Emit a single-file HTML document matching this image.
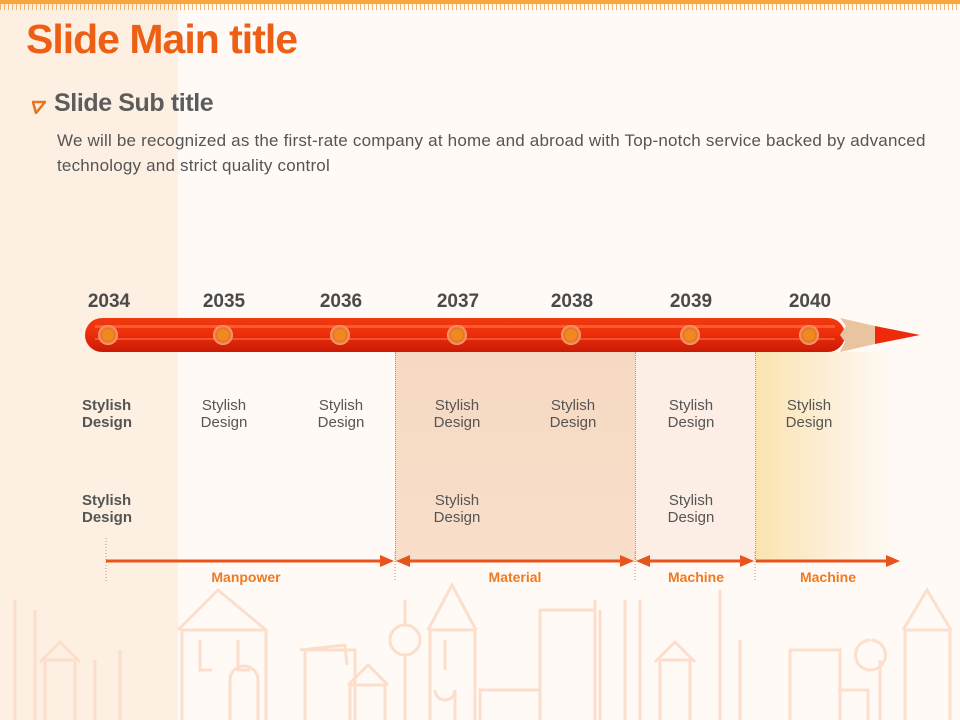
<!DOCTYPE html>
<html><head><meta charset="utf-8"><style>
body{margin:0;width:960px;height:720px;overflow:hidden;background:#fffaf6;font-family:"Liberation Sans",sans-serif;position:relative}
.a{position:absolute}
.yr{position:absolute;top:291px;width:80px;text-align:center;font-weight:bold;font-size:19px;color:#4a4a4a}
.sd{position:absolute;width:90px;text-align:center;font-size:15px;line-height:17px;color:#555}
.sd.b{font-weight:bold;text-align:left;color:#555}
.lb{position:absolute;top:569px;text-align:center;font-weight:bold;font-size:14px;color:#ee7a22}
</style></head><body>
<div class="a" style="left:0;top:0;width:178px;height:720px;background:#fdefe2"></div>
<div class="a" style="left:395px;top:352px;width:240px;height:210px;background:linear-gradient(#f6d9c2,#f8dfca);border-left:1px dotted #e08a5a"></div>
<div class="a" style="left:635px;top:352px;width:120px;height:210px;background:#fcede5;border-left:1px dotted #e08a5a"></div>
<div class="a" style="left:755px;top:352px;width:140px;height:210px;background:linear-gradient(90deg,#fbe3b0,#fdf3e4 70%,rgba(255,250,246,0));border-left:1px dotted #e08a5a"></div>
<div class="a" style="left:0;top:0;width:960px;height:4px;background:#f7a640"></div>
<div class="a" style="left:0;top:4px;width:960px;height:6px;background:repeating-linear-gradient(90deg,#f5b26a 0 1px,transparent 1px 4px)"></div>
<div class="a" style="left:26px;top:16px;font-size:41px;font-weight:bold;color:#ee5f16;letter-spacing:-1px">Slide Main title</div>
<svg class="a" style="left:32px;top:100px" width="14" height="14"><polygon points="1,2 13,2 4,13" fill="none" stroke="#e8741c" stroke-width="2.5"/></svg>
<div class="a" style="left:54px;top:89px;font-size:25px;font-weight:bold;color:#5c5c5c;letter-spacing:-0.4px">Slide Sub title</div>
<div class="a" style="left:57px;top:128px;width:890px;font-size:17px;line-height:25px;color:#555;letter-spacing:0.2px">We will be recognized as the first-rate company at home and abroad with Top-notch service backed by advanced technology and strict quality control</div>
<svg class="a" style="left:0;top:0" width="960" height="720">
<defs><linearGradient id="p" x1="0" y1="0" x2="0" y2="1"><stop offset="0" stop-color="#f03a10"/><stop offset=".4" stop-color="#f0300c"/><stop offset="1" stop-color="#c91a05"/></linearGradient>
<radialGradient id="d"><stop offset="0" stop-color="#ffa035"/><stop offset=".6" stop-color="#e86a10"/><stop offset="1" stop-color="#f8a080"/></radialGradient></defs>
<g fill="none" stroke="#fcdcc8" stroke-width="3" opacity=".9">
<path d="M182 720V630h84v90M178 630l40-40 48 40M200 640v30h12M238 640v30h12M230 720v-40a14 14 0 0 1 28 0v40"/>
<path d="M305 720v-70h50v70M300 650l45-5 2 20M350 720v-35h35v35M348 685l20-20 20 20"/>
<circle cx="405" cy="640" r="15"/><path d="M405 600v25M405 655v65"/>
<path d="M430 720V630h45v90M428 630l24-45 24 45M445 640v30M455 720v-30a10 10 0 0 1 -20 0"/>
<path d="M480 720v-30h60v30M540 720V610h55v110M540 610h55v-10"/>
<path d="M660 720v-60h30v60M655 662l20-20 20 20M720 720V590M740 720V640"/>
<path d="M790 720v-70h50v70M838 690h30v30M870 640a15 15 0 1 0 1 0M880 720v-60M905 720V630h45v90M903 630l24-40 24 40"/>
<path d="M15 720V600M35 720V610M45 720v-60h30v60M40 662l20-20 20 20M95 720V660M120 720V650M600 720V610M625 720V600M640 720V600"/>
</g>
<rect x="85" y="318" width="760" height="34" rx="17" fill="url(#p)"/>
<rect x="95" y="325" width="740" height="3" fill="#ff7a45" opacity=".6"/>
<rect x="95" y="338" width="740" height="2" fill="#ff8050" opacity=".5"/>
<polygon points="840,318 875,326 875,344 840,352 845,342 840,335 846,326" fill="#e8c4a0"/>
<polygon points="875,326 920,335 875,344" fill="#ee2a0a"/>
<g fill="url(#d)">
<circle cx="108" cy="335" r="10"/><circle cx="223" cy="335" r="10"/><circle cx="340" cy="335" r="10"/><circle cx="457" cy="335" r="10"/><circle cx="571" cy="335" r="10"/><circle cx="690" cy="335" r="10"/><circle cx="809" cy="335" r="10"/></g>
<g fill="#f08a20"><circle cx="108" cy="335" r="6"/><circle cx="223" cy="335" r="6"/><circle cx="340" cy="335" r="6"/><circle cx="457" cy="335" r="6"/><circle cx="571" cy="335" r="6"/><circle cx="690" cy="335" r="6"/><circle cx="809" cy="335" r="6"/></g>
<line x1="106" y1="538" x2="106" y2="582" stroke="#e08a5a" stroke-dasharray="1,2"/>
<line x1="395" y1="552" x2="395" y2="582" stroke="#e08a5a" stroke-dasharray="1,2"/>
<line x1="635" y1="552" x2="635" y2="582" stroke="#e08a5a" stroke-dasharray="1,2"/>
<line x1="755" y1="552" x2="755" y2="582" stroke="#e08a5a" stroke-dasharray="1,2"/>
<g stroke="#e8541a" stroke-width="3" fill="#e8541a">
<line x1="106" y1="561" x2="385" y2="561"/><polygon points="394,561 380,555 380,567" stroke="none"/>
<line x1="405" y1="561" x2="625" y2="561"/><polygon points="396,561 410,555 410,567" stroke="none"/><polygon points="634,561 620,555 620,567" stroke="none"/>
<line x1="645" y1="561" x2="745" y2="561"/><polygon points="636,561 650,555 650,567" stroke="none"/><polygon points="754,561 740,555 740,567" stroke="none"/>
<line x1="756" y1="561" x2="890" y2="561"/><polygon points="900,561 886,555 886,567" stroke="none"/></g>
</svg>
<div class="yr" style="left:69px">2034</div><div class="yr" style="left:184px">2035</div><div class="yr" style="left:301px">2036</div><div class="yr" style="left:418px">2037</div><div class="yr" style="left:532px">2038</div><div class="yr" style="left:651px">2039</div><div class="yr" style="left:770px">2040</div>
<div class="sd b" style="left:82px;top:397px">Stylish<br>Design</div>
<div class="sd b" style="left:82px;top:492px">Stylish<br>Design</div>
<div class="sd" style="left:179px;top:397px">Stylish<br>Design</div>
<div class="sd" style="left:296px;top:397px">Stylish<br>Design</div>
<div class="sd" style="left:412px;top:397px">Stylish<br>Design</div>
<div class="sd" style="left:528px;top:397px">Stylish<br>Design</div>
<div class="sd" style="left:646px;top:397px">Stylish<br>Design</div>
<div class="sd" style="left:764px;top:397px">Stylish<br>Design</div>
<div class="sd" style="left:412px;top:492px">Stylish<br>Design</div>
<div class="sd" style="left:646px;top:492px">Stylish<br>Design</div>
<div class="lb" style="left:186px;width:120px">Manpower</div>
<div class="lb" style="left:455px;width:120px">Material</div>
<div class="lb" style="left:636px;width:120px">Machine</div>
<div class="lb" style="left:768px;width:120px">Machine</div>
</body></html>
